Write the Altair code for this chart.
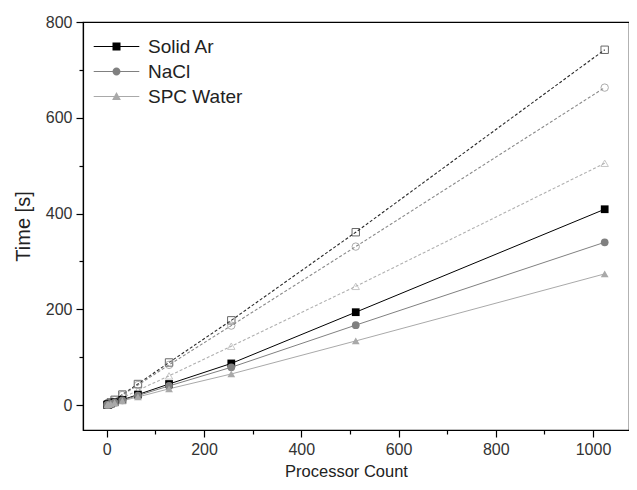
import altair as alt
import pandas as pd

procs = [1, 2, 4, 8, 16, 32, 64, 128, 256, 512, 1024]
series_names = ["Solid Ar", "NaCl", "SPC Water"]

# filled markers, solid lines
solid_ar = [0.4, 0.8, 1.6, 3, 6, 11, 22, 44, 87, 194, 409]
nacl = [0.3, 0.7, 1.3, 2.6, 5, 10, 20, 40, 79, 167, 340]
spc = [0.3, 0.6, 1.2, 2.3, 4.5, 9, 17, 34, 65, 134, 274]
# open markers, dashed lines
solid_ar_open = [0.7, 1.4, 2.8, 5.6, 11, 22, 44, 89, 177, 361, 742]
nacl_open = [0.7, 1.3, 2.6, 5.3, 10.5, 21, 42, 84, 166, 331, 663]
spc_open = [0.5, 1.0, 1.9, 3.9, 7.7, 15, 31, 61, 123, 248, 505]

solid_colors = ["#000000", "#808080", "#a9a9a9"]
dashed_colors = ["#2a2a2a", "#8a8a8a", "#b0b0b0"]
shapes = ["square", "circle", "triangle-up"]
legend_paths = [
    "M-2.85,-0.06H2.85V0.06H-2.85Z M-0.5,-0.5H0.5V0.5H-0.5Z",
    "M-2.85,-0.06H2.85V0.06H-2.85Z M0.5,0A0.5,0.5,0,1,1,-0.5,0A0.5,0.5,0,1,1,0.5,0Z",
    "M-2.85,-0.06H2.85V0.06H-2.85Z M0,-0.55L0.55,0.45L-0.55,0.45Z",
]

rows = []
for name, sv, dv in zip(series_names, [solid_ar, nacl, spc], [solid_ar_open, nacl_open, spc_open]):
    for p, a, b in zip(procs, sv, dv):
        rows.append({"proc": p, "time": a, "open": b, "series": name})
df = pd.DataFrame(rows)

xs = alt.Scale(domain=[-49, 1074], nice=False, zero=False)
ys = alt.Scale(domain=[-52, 800], nice=False, zero=False)

tick_cond = {"condition": {"test": "datum.value % 200 === 0", "value": 7}, "value": 4}
x_axis = alt.Axis(
    title="Processor Count", values=list(range(0, 1001, 100)), format="d",
    labelExpr="datum.value % 200 === 0 ? datum.label : ''",
    tickSize=tick_cond, grid=False, titleFontSize=16.5, labelFontSize=16,
    labelPadding=4, titlePadding=6, titleX=263,
)
y_axis = alt.Axis(
    title="Time [s]", values=list(range(0, 801, 100)), format="d",
    labelExpr="datum.value % 200 === 0 ? datum.label : ''",
    tickSize=tick_cond, grid=False, titleFontSize=20, labelFontSize=16,
    labelPadding=4, titlePadding=12,
)

base = alt.Chart(df)
layers = []
for i, name in enumerate(series_names):
    sub = base.transform_filter(alt.datum.series == name)
    layers.append(sub.mark_line(strokeWidth=1.1, strokeDash=[3, 2]).encode(
        x=alt.X("proc:Q", scale=xs, axis=x_axis),
        y=alt.Y("open:Q", scale=ys, axis=y_axis),
        color=alt.value(dashed_colors[i])))
    layers.append(sub.mark_point(shape=shapes[i], filled=False, size=55, strokeWidth=1).encode(
        x="proc:Q", y="open:Q", color=alt.value(dashed_colors[i])))
for i, name in enumerate(series_names):
    sub = base.transform_filter(alt.datum.series == name)
    layers.append(sub.mark_line(strokeWidth=1).encode(
        x="proc:Q", y="time:Q", color=alt.value(solid_colors[i])))

leg = dict(title=None, orient="none", legendX=24, legendY=15,
           symbolSize=256, labelFontSize=19, labelOffset=22,
           rowPadding=5, symbolStrokeWidth=0, labelColor="#222222")
legend_layer = base.mark_point(filled=True, size=1, opacity=1).encode(
    x="proc:Q", y="time:Q",
    color=alt.Color("series:N", scale=alt.Scale(domain=series_names, range=solid_colors),
                    legend=alt.Legend(**leg)),
    shape=alt.Shape("series:N", scale=alt.Scale(domain=series_names, range=legend_paths),
                    legend=alt.Legend(**leg)),
)
layers.append(legend_layer)

for i, name in enumerate(series_names):
    sub = base.transform_filter(alt.datum.series == name)
    layers.append(sub.mark_point(shape=shapes[i], filled=True, size=60, opacity=1).encode(
        x="proc:Q", y="time:Q", color=alt.value(solid_colors[i])))

chart = alt.layer(*layers).properties(
    width=546, height=408, autosize="none",
    padding={"left": 75, "top": 14, "right": 0, "bottom": 52},
).configure_view(stroke="#000000", strokeWidth=1.2).configure_axis(
    domainColor="#000000", tickColor="#000000", labelColor="#333333", titleColor="#222222",
    labelFont="Liberation Sans", titleFont="Liberation Sans", titleFontWeight="normal",
    domainWidth=1.2, tickWidth=1.2,
).configure_legend(labelFont="Liberation Sans")

chart.save("out.html", embed_options={"renderer": "svg", "actions": False})
